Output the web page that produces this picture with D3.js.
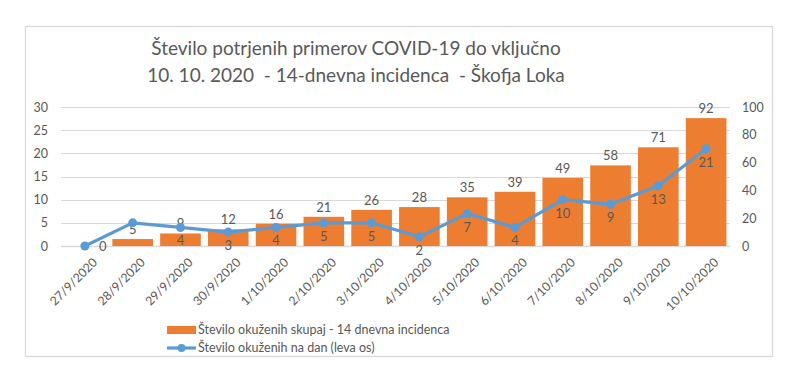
<!DOCTYPE html>
<html lang="sl">
<head>
<meta charset="UTF-8">
<script src="https://cdn.jsdelivr.net/npm/d3@7/dist/d3.min.js"></script>
<title>COVID-19 Škofja Loka</title>
<style>
  body { margin: 0; background: #fff; }
  text { font-family: Lato, "Open Sans", sans-serif; fill: #595959; }
  .title { white-space: pre; }
</style>
</head>
<body>
<script>
  // data
  const dates = ["27/9/2020", "28/9/2020", "29/9/2020", "30/9/2020", "1/10/2020", "2/10/2020", "3/10/2020",
    "4/10/2020", "5/10/2020", "6/10/2020", "7/10/2020", "8/10/2020", "9/10/2020", "10/10/2020"];
  const incidence = [0, 5, 9, 12, 16, 21, 26, 28, 35, 39, 49, 58, 71, 92];
  const daily = [0, 5, 4, 3, 4, 5, 5, 2, 7, 4, 10, 9, 13, 21];
  const leftTicks = [0, 5, 10, 15, 20, 25, 30];
  const rightTicks = [0, 20, 40, 60, 80, 100];
  const titleLines = ["Število potrjenih primerov COVID-19 do vključno",
    "10. 10. 2020  - 14-dnevna incidenca  - Škofja Loka"];
  const legendNames = ["Število okuženih skupaj - 14 dnevna incidenca", "Število okuženih na dan (leva os)"];

  const W = 796, H = 375;
  const plot = { left: 61, right: 730, top: 107, bottom: 246 };
  const orange = "#ED7D31", blue = "#5B9BD5", grid = "#D9D9D9";

  const svg = d3.select("body").append("svg").attr("width", W).attr("height", H);

  // chart frame
  svg.append("rect").attr("x", 25.5).attr("y", 26.5).attr("width", 747).attr("height", 330)
    .attr("fill", "none").attr("stroke", grid).attr("stroke-width", 1.3);

  const x = d3.scaleBand().domain(dates).range([plot.left, plot.right]).paddingInner(0.15).paddingOuter(0.075);
  const yL = d3.scaleLinear().domain([0, 30]).range([plot.bottom, plot.top]);
  const yR = d3.scaleLinear().domain([0, 100]).range([plot.bottom, plot.top]);
  const cx = d => x(d) + x.bandwidth() / 2;

  // gridlines
  svg.append("g").selectAll("line").data(leftTicks).join("line")
    .attr("x1", plot.left).attr("x2", plot.right)
    .attr("y1", d => Math.round(yL(d)) + 0.5).attr("y2", d => Math.round(yL(d)) + 0.5)
    .attr("stroke", grid).attr("stroke-width", 1);

  // axes
  const axL = svg.append("g").attr("transform", `translate(${plot.left - 13},0)`)
    .call(d3.axisLeft(yL).tickValues(leftTicks).tickSize(0).tickPadding(0));
  const axR = svg.append("g").attr("transform", `translate(${plot.right + 12},0)`)
    .call(d3.axisRight(yR).tickValues(rightTicks).tickSize(0).tickPadding(0));
  [axL, axR].forEach(a => {
    a.select(".domain").remove();
    a.selectAll("text").attr("font-size", 12.5).attr("fill", "#595959")
      .attr("font-family", "Lato, 'Open Sans', sans-serif");
  });

  const axB = svg.append("g").attr("transform", `translate(0,${plot.bottom})`)
    .call(d3.axisBottom(x).tickSize(0).tickPadding(0));
  axB.select(".domain").attr("stroke", grid).attr("stroke-width", 1.3);
  axB.selectAll("text")
    .attr("font-size", 12.3).attr("fill", "#595959").attr("font-family", "Lato, 'Open Sans', sans-serif")
    .attr("text-anchor", "end")
    .attr("transform", "translate(7,11) rotate(-45)")
    .attr("dy", "0.71em");

  // bars (right axis)
  svg.append("g").selectAll("rect").data(incidence).join("rect")
    .attr("x", (d, i) => x(dates[i]))
    .attr("width", x.bandwidth())
    .attr("y", d => yR(d))
    .attr("height", d => yR(0) - yR(d))
    .attr("fill", orange);

  svg.append("g").selectAll("text").data(incidence).join("text")
    .filter(d => d > 0)
    .attr("x", d => cx(dates[incidence.indexOf(d)]))
    .attr("y", d => yR(d) - 5)
    .attr("text-anchor", "middle")
    .attr("font-size", 13)
    .text(d => d);

  // line (left axis)
  const line = d3.line().x((d, i) => cx(dates[i])).y(d => yL(d));
  svg.append("path").datum(daily)
    .attr("d", line).attr("fill", "none").attr("stroke", blue)
    .attr("stroke-width", 3.2).attr("stroke-linejoin", "round").attr("stroke-linecap", "round");
  svg.append("g").selectAll("circle").data(daily).join("circle")
    .attr("cx", (d, i) => cx(dates[i])).attr("cy", d => yL(d)).attr("r", 4.5).attr("fill", blue);

  svg.append("g").selectAll("text").data(daily).join("text")
    .attr("x", (d, i) => cx(dates[i]) + (i === 0 ? 18 : 0))
    .attr("y", (d, i) => yL(d) + (i === 0 ? 5 : 18))
    .attr("text-anchor", "middle")
    .attr("font-size", 13)
    .text((d, i) => i === 1 ? "" : d);

  // title
  svg.append("g").selectAll("text").data(titleLines).join("text")
    .attr("class", "title")
    .attr("x", 356).attr("y", (d, i) => 55 + i * 27)
    .attr("text-anchor", "middle").attr("font-size", 19)
    .text(d => d);

  // legend
  const lg = svg.append("g").attr("transform", "translate(167,0)");
  lg.append("rect").attr("x", 0).attr("y", 326).attr("width", 29).attr("height", 8).attr("fill", orange);
  lg.append("line").attr("x1", 0).attr("x2", 29).attr("y1", 348).attr("y2", 348)
    .attr("stroke", blue).attr("stroke-width", 3.2);
  lg.append("circle").attr("cx", 14.5).attr("cy", 348).attr("r", 4).attr("fill", blue);
  lg.selectAll("text.lab").data(legendNames).join("text").attr("class", "lab")
    .attr("x", 31).attr("y", (d, i) => 334 + i * 18)
    .attr("font-size", 12.5).text(d => d);
</script>
</body>
</html>
